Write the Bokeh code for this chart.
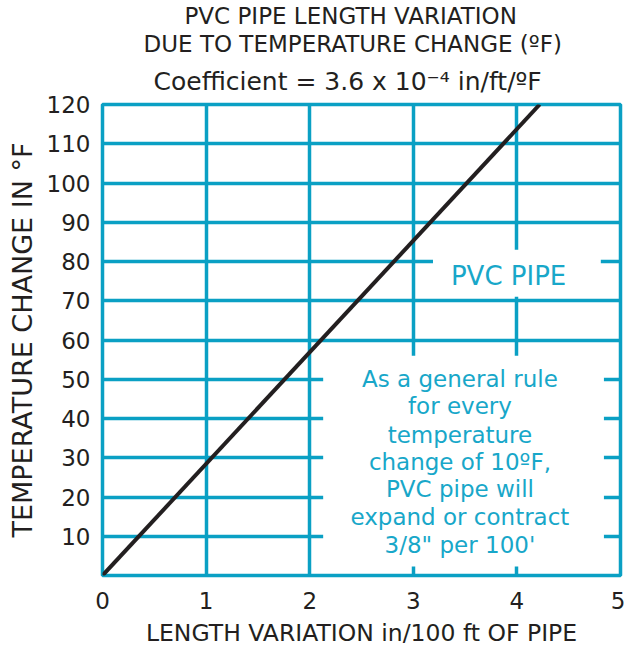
from bokeh.plotting import figure
from bokeh.models import Range1d, FixedTicker, Label, BoxAnnotation, Title
from bokeh.embed import file_html
from bokeh.resources import INLINE

# ---- data ----
x_ticks = [0, 1, 2, 3, 4, 5]
y_ticks = [10, 20, 30, 40, 50, 60, 70, 80, 90, 100, 110, 120]
length_variation = [0.0, 4.22]      # in / 100 ft of pipe
temperature_change = [0, 120]       # degrees F

title_lines = ["PVC PIPE LENGTH VARIATION",
               "DUE TO TEMPERATURE CHANGE (ºF)",
               "Coefficient = 3.6 x 10⁻⁴ in/ft/ºF"]
note_lines = ["As a general rule", "for every", "temperature",
              "change of 10ºF,", "PVC pipe will", "expand or contract",
              "3/8\" per 100'"]

GRID = "#0aa0c4"
CYAN_TEXT = "#18a7c9"
DARK = "#231f20"
FONT = "DejaVu Sans"

p = figure(width=625, height=649, x_range=Range1d(0, 5), y_range=Range1d(0, 120),
           output_backend="svg", toolbar_location=None,
           min_border_left=102, min_border_right=5, min_border_top=103, min_border_bottom=71)
p.background_fill_color = "white"
p.border_fill_color = "white"
p.outline_line_color = GRID
p.outline_line_width = 3.5
p.outline_line_alpha = 1.0

p.xaxis.ticker = FixedTicker(ticks=x_ticks)
p.yaxis.ticker = FixedTicker(ticks=y_ticks)
p.xgrid.ticker = FixedTicker(ticks=x_ticks)
p.ygrid.ticker = FixedTicker(ticks=y_ticks)
for g in (p.xgrid, p.ygrid):
    g.grid_line_color = GRID
    g.grid_line_width = 3.5
    g.grid_line_alpha = 1.0

for ax in (p.xaxis, p.yaxis):
    ax.axis_line_color = None
    ax.major_tick_line_color = None
    ax.minor_tick_line_color = None
    ax.major_label_text_font = FONT
    ax.major_label_text_font_size = "23px"
    ax.major_label_text_color = DARK
    ax.axis_label_text_font = FONT
    ax.axis_label_text_font_style = "normal"
    ax.axis_label_text_color = DARK

p.xaxis.axis_label = "LENGTH VARIATION in/100 ft OF PIPE"
p.yaxis.axis_label = "TEMPERATURE CHANGE IN °F"
p.xaxis.axis_label_text_font_size = "23.5px"
p.yaxis.axis_label_text_font_size = "27px"
p.xaxis.major_label_standoff = 10
p.xaxis.axis_label_standoff = 7
p.yaxis.major_label_standoff = 6
p.yaxis.axis_label_standoff = 6

# titles, stacked upward from the frame
for txt, so, off, fs in zip(reversed(title_lines), [17, 0, 0], [51, 41, 82],
                            ["25px", "23px", "23px"]):
    p.add_layout(Title(text=txt, align="left", offset=off, text_font=FONT, text_font_size=fs,
                       text_font_style="normal", text_color=DARK, standoff=so), "above")

# white panels behind the annotations
p.add_layout(BoxAnnotation(left=3.19, right=4.81, bottom=71, top=83,
                           fill_color="white", fill_alpha=1, line_color=None))
p.add_layout(BoxAnnotation(left=2.13, right=4.84, bottom=2.3, top=56,
                           fill_color="white", fill_alpha=1, line_color=None))

p.line(length_variation, temperature_change, line_color=DARK, line_width=4)

p.add_layout(Label(x=3.92, y=76.3, text="PVC PIPE", text_align="center", text_baseline="middle",
                   text_font=FONT, text_font_size="26px", text_color=CYAN_TEXT))

note_y = [50.0, 43.2, 35.9, 28.8, 22.0, 14.9, 7.8]
for txt, yy in zip(note_lines, note_y):
    p.add_layout(Label(x=3.45, y=yy, text=txt, text_align="center", text_baseline="middle",
                       text_font=FONT, text_font_size="23px", text_color=CYAN_TEXT))

open("out.html", "w").write(file_html(p, INLINE))
